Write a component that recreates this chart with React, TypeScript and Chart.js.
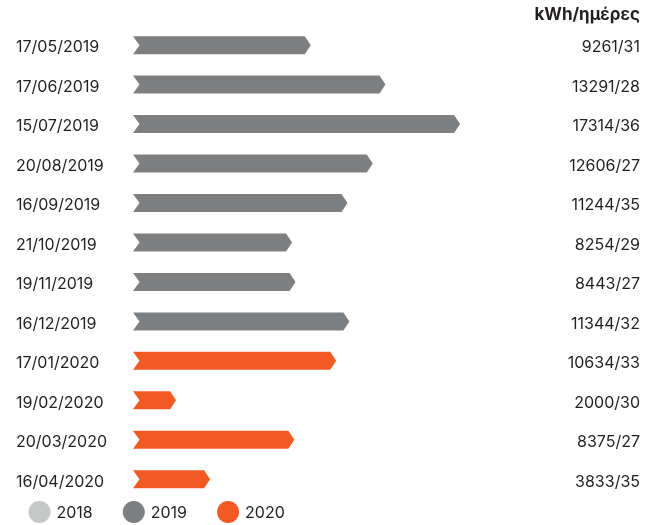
import React, { useEffect, useRef } from "react";
import { Chart, registerables } from "chart.js";

Chart.register(...registerables);

const readingDates = [
  "17/05/2019", "17/06/2019", "15/07/2019", "20/08/2019", "16/09/2019", "21/10/2019",
  "19/11/2019", "16/12/2019", "17/01/2020", "19/02/2020", "20/03/2020", "16/04/2020",
];
const kwhValues = [9261, 13291, 17314, 12606, 11244, 8254, 8443, 11344, 10634, 2000, 8375, 3833];
const dayCounts = [31, 28, 36, 27, 35, 29, 27, 32, 33, 30, 27, 35];
const rowYears = ["2019", "2019", "2019", "2019", "2019", "2019", "2019", "2019", "2020", "2020", "2020", "2020"];
const legendYears = ["2018", "2019", "2020"];
const yearColors: Record<string, string> = { "2018": "#c6c7c7", "2019": "#7d7f80", "2020": "#f15a22" };
const headerText = "kWh/ημέρες";

const FONT = "Inter";
const TEXT = "#231f20";

const chevronPlugin = {
  id: "chevrons",
  beforeDatasetDraw(chart: any, args: any) {
    const meta = args.meta;
    const ds = chart.data.datasets[args.index];
    const ctx = chart.ctx;
    ctx.save();
    ctx.fillStyle = ds.backgroundColor;
    meta.data.forEach((el: any, i: number) => {
      const v = ds.data[i];
      if (v === null || v === undefined) return;
      const { x, y, base, height } = el.getProps(["x", "y", "base", "height"], true);
      const h = height / 2;
      const notch = 6.5;
      const tip = 6;
      ctx.beginPath();
      ctx.moveTo(base, y - h);
      ctx.lineTo(x, y - h);
      ctx.lineTo(x + tip, y);
      ctx.lineTo(x, y + h);
      ctx.lineTo(base, y + h);
      ctx.lineTo(base + notch, y);
      ctx.closePath();
      ctx.fill();
    });
    ctx.restore();
    return false;
  },
  afterDraw(chart: any) {
    const ctx = chart.ctx;
    ctx.save();
    ctx.font = `16px ${FONT}`;
    ctx.textBaseline = "middle";
    ctx.textAlign = "left";
    let x = 28.5;
    const y = 512;
    const r = 11;
    chart.data.datasets.forEach((ds: any) => {
      ctx.fillStyle = ds.backgroundColor;
      ctx.beginPath();
      ctx.arc(x + r, y, r, 0, Math.PI * 2);
      ctx.fill();
      ctx.fillStyle = TEXT;
      const tx = x + 2 * r + 6;
      ctx.fillText(ds.label, tx, y + 1);
      x = tx + ctx.measureText(ds.label).width + 30;
    });
    ctx.restore();
  },
};

export default function App() {
  const ref = useRef<HTMLCanvasElement>(null);
  useEffect(() => {
    if (!ref.current) return;
    const datasets = legendYears.map((yr) => ({
      label: yr,
      data: kwhValues.map((v, i) => (rowYears[i] === yr ? v : null)),
      backgroundColor: yearColors[yr],
      yAxisID: "y",
      barThickness: 18,
      grouped: false,
    }));
    const chart = new Chart(ref.current, {
      type: "bar",
      data: { labels: readingDates, datasets },
      options: {
        animation: false,
        responsive: false,
        indexAxis: "y",
        layout: { padding: { left: 16, right: 17, top: 0, bottom: 26 } },
        plugins: {
          legend: { display: false },
          tooltip: { enabled: false },
          title: {
            display: true,
            text: headerText,
            align: "end",
            color: TEXT,
            font: { family: FONT, size: 17, weight: "bold" },
            padding: { top: 5, bottom: 0 },
          },
        },
        scales: {
          x: { display: false, min: 0, max: 22000 },
          y: {
            type: "category",
            position: "left",
            offset: true,
            grid: { display: false },
            border: { display: false },
            ticks: {
              autoSkip: false,
              crossAlign: "far",
              labelOffset: 2.5,
              color: TEXT,
              font: { family: FONT, size: 16 },
            },
            afterFit(scale: any) {
              scale.width = 117;
            },
          },
          y2: {
            type: "category",
            position: "right",
            offset: true,
            labels: kwhValues.map((v, i) => `${v}/${dayCounts[i]}`),
            grid: { display: false },
            border: { display: false },
            ticks: {
              autoSkip: false,
              crossAlign: "far",
              labelOffset: 2.5,
              color: TEXT,
              font: { family: FONT, size: 16 },
            },
            afterFit(scale: any) {
              scale.width = 99;
            },
          },
        },
      } as any,
      plugins: [chevronPlugin],
    });
    return () => chart.destroy();
  }, []);
  return (
    <div style={{ position: "fixed", left: 0, top: 0, width: 657, height: 525, background: "#fff" }}>
      <canvas ref={ref} width={657} height={525} />
    </div>
  );
}
